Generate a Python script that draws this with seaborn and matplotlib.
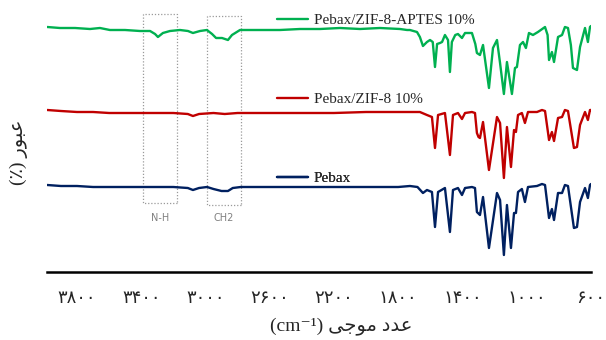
import matplotlib
matplotlib.use('Agg')
import matplotlib.pyplot as plt
from matplotlib.lines import Line2D
from matplotlib.patches import Rectangle
import seaborn as sns

# FTIR spectra (cm-1, stacked transmittance in arbitrary units)
wn_aptes = [3985, 3906, 3812, 3719, 3657, 3595, 3501, 3408, 3345, 3314, 3296, 3265, 3221, 3159,
            3109, 3078, 3034, 2991, 2959, 2934, 2897, 2860, 2835, 2785, 2661, 2536, 2412, 2287,
            2163, 2038, 1914, 1789, 1745, 1727, 1683, 1665, 1646, 1621, 1602, 1585, 1571, 1558,
            1540, 1527, 1509, 1490, 1478, 1466, 1445, 1428, 1403, 1384, 1341, 1320, 1310, 1291,
            1272, 1235, 1210, 1185, 1166, 1142, 1123, 1092, 1073, 1061, 1042, 1023, 1005, 986,
            961, 930, 886, 870, 861, 843, 830, 805, 780, 762, 743, 725, 712, 687, 668, 637,
            619, 606, 600]
t_aptes = [253, 252, 252, 251, 252, 250, 250, 249, 249, 246, 243, 247, 249, 250,
           249, 247, 249, 250, 246, 242, 242, 240, 245, 250, 250, 250, 251, 251,
           252, 251, 252, 251, 250, 250, 248, 243, 234, 238, 240, 238, 213, 236,
           237, 238, 245, 240, 208, 238, 245, 246, 242, 247, 247, 236, 227, 225,
           235, 192, 232, 240, 217, 186, 218, 186, 212, 213, 235, 238, 232, 247,
           245, 248, 253, 245, 220, 228, 218, 243, 245, 253, 252, 235, 212, 210, 233, 252,
           238, 253, 254]

wn_zif = [3985, 3900, 3800, 3700, 3600, 3500, 3400, 3300, 3200, 3110, 3078, 3040, 2950, 2880,
          2800, 2600, 2400, 2200, 2000, 1800, 1727, 1665, 1621, 1590, 1571, 1552, 1509, 1478,
          1459, 1428, 1403, 1384, 1341, 1322, 1310, 1300, 1291, 1272, 1235, 1185, 1166, 1142,
          1123, 1098, 1079, 1067, 1054, 1030, 1011, 992, 936, 905, 886, 861, 843, 830, 805,
          780, 762, 743, 706, 687, 668, 637, 619, 606, 600]
t_zif = [170, 169, 168, 168, 167, 167, 167, 167, 167, 166, 164, 166, 167, 166,
         167, 167, 167, 167, 168, 168, 168, 168, 165, 163, 132, 165, 167, 125,
         165, 167, 161, 167, 168, 167, 147, 143, 142, 158, 110, 163, 157, 102,
         153, 113, 150, 148, 165, 167, 157, 168, 168, 170, 169, 140, 148, 139, 162,
         163, 170, 169, 132, 133, 155, 168, 160, 170, 170]

wn_pebax = [3985, 3900, 3800, 3700, 3600, 3500, 3400, 3300, 3200, 3110, 3078, 3040, 2990, 2950,
            2900, 2860, 2830, 2780, 2600, 2400, 2200, 2000, 1800, 1727, 1680, 1646, 1621, 1590,
            1571, 1552, 1509, 1478, 1459, 1428, 1403, 1384, 1341, 1322, 1310, 1291, 1272, 1235,
            1185, 1166, 1142, 1123, 1098, 1079, 1067, 1054, 1030, 1011, 992, 936, 905, 886,
            861, 843, 830, 805, 780, 762, 743, 706, 687, 668, 637, 619, 606, 600]
t_pebax = [95, 94, 94, 93, 93, 93, 93, 93, 93, 92, 90, 92, 93, 91,
           89, 89, 92, 93, 93, 93, 93, 93, 93, 94, 93, 87, 90, 88,
           53, 88, 92, 48, 90, 92, 85, 92, 93, 92, 68, 65, 83, 32,
           87, 80, 25, 75, 32, 67, 67, 88, 91, 78, 93, 94, 96, 95,
           62, 71, 60, 87, 87, 95, 94, 52, 53, 78, 92, 82, 95, 96]

names = ['Pebax/ZIF-8-APTES 10%', 'Pebax/ZIF-8 10%', 'Pebax']
colors = ['#00B050', '#C00000', '#002060']
legend_y = [260, 181, 102]

tick_values = [3800, 3400, 3000, 2600, 2200, 1800, 1400, 1000, 600]
tick_labels = ['۳۸۰۰', '۳۴۰۰', '۳۰۰۰', '۲۶۰۰', '۲۲۰۰', '۱۸۰۰', '۱۴۰۰', '۱۰۰۰', '۶۰۰']

# highlighted bands (wavenumber range, label)
bands = [(3389, 3177, 'N-H'), (2991, 2779, 'CH2')]

sns.set_style('white')
plt.rcParams['font.family'] = ['Liberation Serif', 'DejaVu Sans']

fig = plt.figure(figsize=(6.06, 3.4), dpi=100)
ax = fig.add_axes([0.078, 0.2, 0.8977, 0.8])

series = [(wn_aptes, t_aptes), (wn_zif, t_zif), (wn_pebax, t_pebax)]
for (wn, t), c in zip(series, colors):
    sns.lineplot(x=wn, y=t, ax=ax, color=c, linewidth=1.7)

for (hi, lo, lab), top in zip(bands, [266, 264]):
    ax.add_patch(Rectangle((lo, top - 189), hi - lo, 189, fill=False,
                           edgecolor='#9a9a9a', linestyle=(0, (1, 1.5)), linewidth=0.9))
    ax.text((hi + lo) / 2, 62, lab, ha='center', va='center', fontsize=7,
            color='#808080', family=['DejaVu Sans'])

for name, c, y in zip(names, colors, legend_y):
    leg = ax.legend(handles=[Line2D([], [], color=c, linewidth=1.7)], labels=[name],
                    loc='center left', bbox_to_anchor=(2554, y), bbox_transform=ax.transData,
                    frameon=False, borderpad=0, borderaxespad=0, handlelength=2.0,
                    handletextpad=0.4, fontsize=11)
    ax.add_artist(leg)

ax.set_xlim(3985, 598)
ax.set_ylim(8, 280)
ax.set_xticks(tick_values)
ax.set_xticklabels(tick_labels, fontsize=13)
ax.set_yticks([])
ax.tick_params(axis='x', direction='in', length=6, width=0.8, color='#666666', pad=13)
for s in ['top', 'left', 'right']:
    ax.spines[s].set_visible(False)
ax.spines['bottom'].set_linewidth(1.8)
ax.spines['bottom'].set_color('black')

# RTL labels given in visual order with Arabic presentation forms
ax.set_xlabel('(cm\u207b\u00b9) \uFBFD\uFE9F\uFEEE\uFEE3 \uFEA9\uFEAA\uFECB', fontsize=14)
ax.xaxis.set_label_coords(0.54, -0.165)
ax.set_ylabel('(\u066a) \uFEAD\uFEEE\uFE92\uFECB', fontsize=14)
ax.yaxis.set_label_coords(-0.035, 0.44)

fig.savefig('out.png', dpi=100)
